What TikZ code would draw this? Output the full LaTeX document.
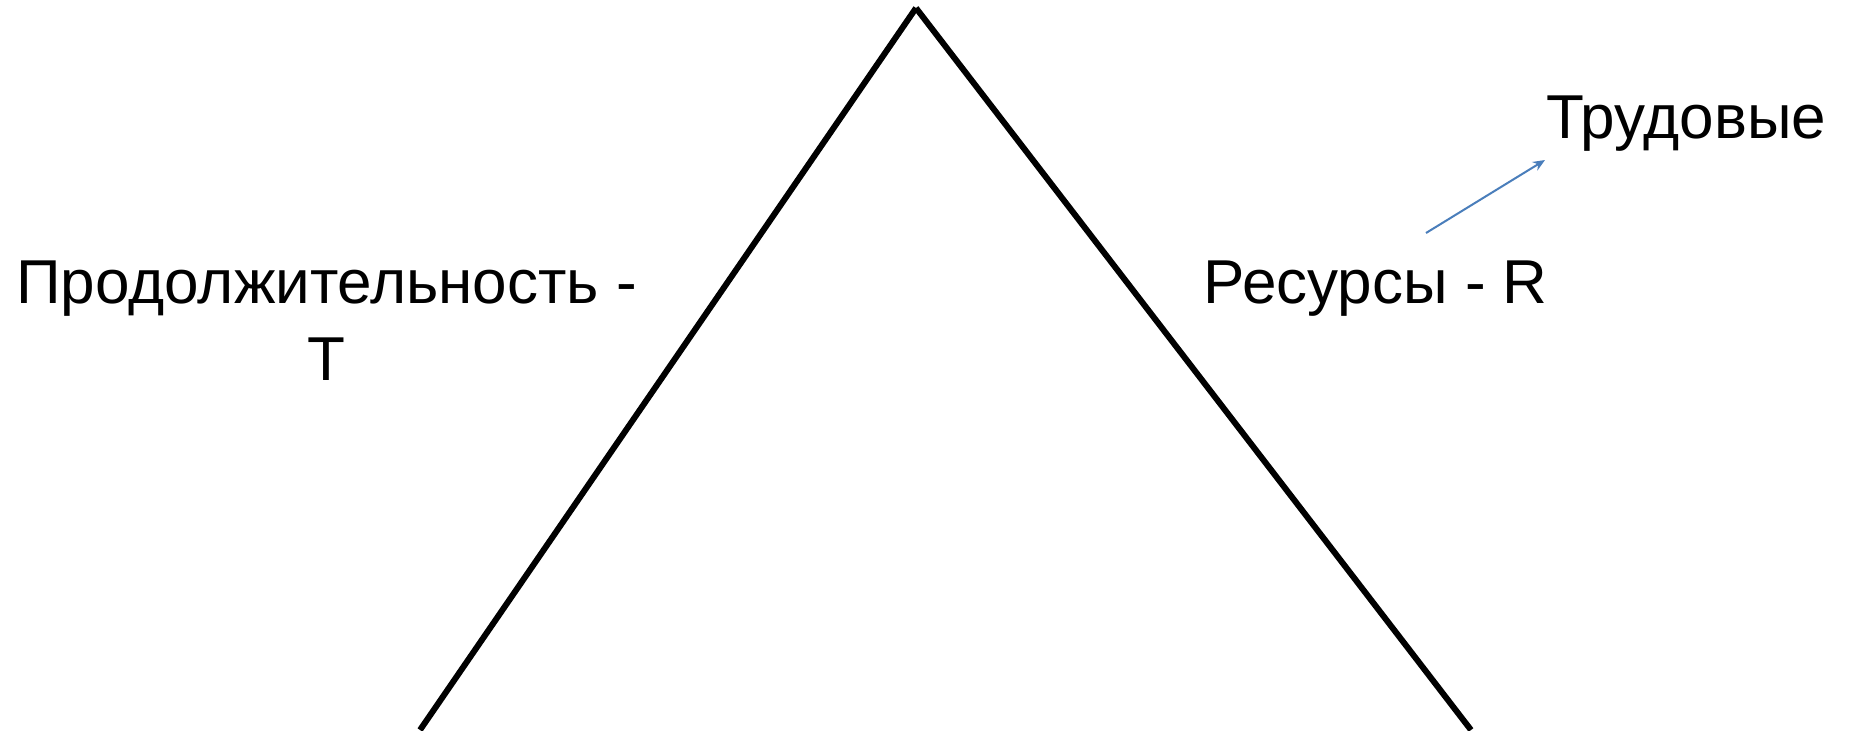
\documentclass[tikz,border=0pt]{standalone}
\usepackage{fontspec}
\setmainfont{Liberation Sans}
\usetikzlibrary{arrows.meta}
\definecolor{arrowblue}{HTML}{4A7EBB}
\begin{document}
\begin{tikzpicture}[x=0.5pt,y=-0.5pt,
  lbl/.style={inner sep=0pt, font=\fontsize{31}{38}\selectfont},
  edge/.style={line width=3pt, draw=black},
  conn/.style={line width=1pt, draw=arrowblue, -{Stealth[length=6pt,width=5pt]}}]
\useasboundingbox[fill=white] (0,0) rectangle (1854,730);
\coordinate (apex) at (916,8);
\coordinate (bl) at (420,730);
\coordinate (br) at (1471,730);
\draw[edge] (apex) -- (bl);
\draw[edge] (apex) -- (br);
\node[lbl, anchor=base west] (dur) at (16,303) {Продолжительность -};
\node[lbl, anchor=base] (durT) at ([yshift=-38.5pt]dur.base) {T};
\node[lbl, anchor=base west] (res) at (1203,303) {Ресурсы - R};
\node[lbl, anchor=base west] (lab) at (1546,138) {Трудовые};
\coordinate (a1) at (1426,233);
\coordinate (a2) at (1545,160);
\draw[conn] (a1) -- (a2);
\end{tikzpicture}
\end{document}
